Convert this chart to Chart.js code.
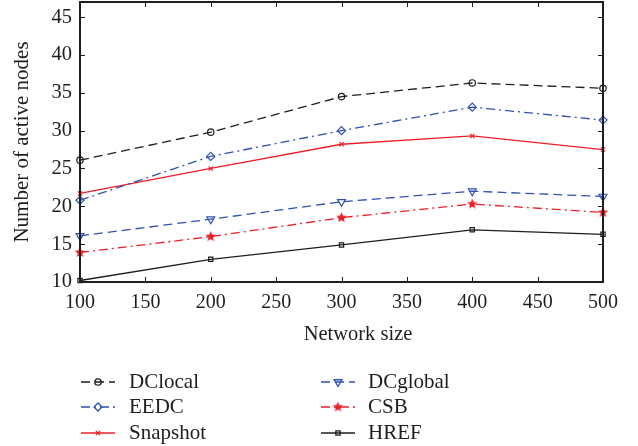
<!DOCTYPE html>
<html lang="en">
<head>
  <meta charset="UTF-8" />
  <title>Number of active nodes vs network size</title>
  <script src="https://cdn.jsdelivr.net/npm/chart.js@4.4.1/dist/chart.umd.min.js"></script>
  <style>
    body { margin: 0; background: #fff; }
    #wrap { width: 638px; height: 446px; }
  </style>
</head>
<body>
  <div id="wrap"><canvas id="chart" width="638" height="446"></canvas></div>

  <script>
    // data
    const networkSizes = [100, 200, 300, 400, 500];
    const dcLocal  = [26.1, 29.8, 34.5, 36.3, 35.6];
    const eedc     = [20.8, 26.6, 30.0, 33.1, 31.4];
    const snapshot = [21.7, 25.0, 28.2, 29.3, 27.5];
    const dcGlobal = [16.1, 18.3, 20.6, 22.0, 21.3];
    const csb      = [13.9, 16.0, 18.5, 20.3, 19.2];
    const href     = [10.2, 13.0, 14.9, 16.9, 16.3];

    const xTicks = [100, 150, 200, 250, 300, 350, 400, 450, 500];
    const yTicks = [10, 15, 20, 25, 30, 35, 40, 45];

    const BLACK = '#1e1e1e';
    const BLUE = '#2f52b0';
    const RED = '#ec1f29';
    const FONT = "'Liberation Serif', 'DejaVu Serif', serif";

    // filled red star marker
    function makeStar(r, color) {
      const c = document.createElement('canvas');
      c.width = c.height = 2 * r + 2;
      const g = c.getContext('2d');
      const cx = r + 1, cy = r + 1;
      g.beginPath();
      for (let i = 0; i < 10; i++) {
        const rad = i % 2 === 0 ? r : r * 0.45;
        const a = -Math.PI / 2 + i * Math.PI / 5;
        g.lineTo(cx + rad * Math.cos(a), cy + rad * Math.sin(a));
      }
      g.closePath();
      g.fillStyle = color;
      g.fill();
      return c;
    }
    const starImg = makeStar(5.5, RED);

    const toPoints = arr => arr.map((v, i) => ({ x: networkSizes[i], y: v }));

    function series(label, values, color, dash, style, radius, rotation) {
      return {
        label: label,
        data: toPoints(values),
        borderColor: color,
        borderWidth: 1.3,
        borderDash: dash,
        pointStyle: style,
        pointRadius: radius,
        pointRotation: rotation || 0,
        pointBorderColor: color,
        pointBackgroundColor: 'rgba(0,0,0,0)',
        pointBorderWidth: 1.2,
        tension: 0
      };
    }

    const datasets = [
      series('DClocal', dcLocal, BLACK, [9, 5], 'circle', 3.2),
      series('EEDC', eedc, BLUE, [9, 4, 2, 4], 'rectRot', 4),
      series('Snapshot', snapshot, RED, [], 'crossRot', 3),
      series('DCglobal', dcGlobal, BLUE, [9, 5], 'triangle', 4.5, 180),
      series('CSB', csb, RED, [9, 4, 2, 4], starImg, 6),
      series('HREF', href, BLACK, [], 'rect', 3)
    ];

    // box, inward ticks, x title and the two-column legend
    const decor = {
      id: 'decor',
      afterDraw(chart) {
        const { ctx, chartArea: a, scales } = chart;
        ctx.save();
        ctx.strokeStyle = BLACK;
        ctx.lineWidth = 1;
        ctx.setLineDash([]);
        xTicks.forEach(v => {
          const x = Math.round(scales.x.getPixelForValue(v)) + 0.5;
          ctx.beginPath();
          ctx.moveTo(x, a.bottom); ctx.lineTo(x, a.bottom - 5);
          ctx.moveTo(x, a.top); ctx.lineTo(x, a.top + 5);
          ctx.stroke();
        });
        yTicks.forEach(v => {
          const y = Math.round(scales.y.getPixelForValue(v)) + 0.5;
          ctx.beginPath();
          ctx.moveTo(a.left, y); ctx.lineTo(a.left + 5, y);
          ctx.moveTo(a.right, y); ctx.lineTo(a.right - 5, y);
          ctx.stroke();
        });
        ctx.lineWidth = 2;
        ctx.strokeRect(a.left, a.top, a.right - a.left, a.bottom - a.top);

        // x axis title
        ctx.fillStyle = BLACK;
        ctx.font = '20.5px ' + FONT;
        ctx.textAlign = 'center';
        ctx.textBaseline = 'middle';
        ctx.fillText('Network size', 358, 335);

        // legend
        const rows = [382, 407, 433];
        const cols = [{ line: 81, text: 129 }, { line: 321, text: 368 }];
        ctx.font = '21px ' + FONT;
        ctx.textAlign = 'left';
        chart.data.datasets.forEach((ds, i) => {
          const col = cols[Math.floor(i / 3)];
          const y = rows[i % 3];
          ctx.save();
          ctx.strokeStyle = ds.borderColor;
          ctx.lineWidth = ds.borderWidth;
          ctx.setLineDash(ds.borderDash);
          ctx.beginPath();
          ctx.moveTo(col.line, y);
          ctx.lineTo(col.line + 34, y);
          ctx.stroke();
          ctx.setLineDash([]);
          ctx.fillStyle = ds.pointBackgroundColor;
          Chart.helpers.drawPoint(ctx, {
            pointStyle: ds.pointStyle,
            radius: ds.pointRadius,
            rotation: ds.pointRotation,
            borderWidth: ds.pointBorderWidth
          }, col.line + 17, y);
          ctx.restore();
          ctx.fillStyle = BLACK;
          ctx.fillText(ds.label, col.text, y);
        });
        ctx.restore();
      }
    };

    new Chart(document.getElementById('chart'), {
      type: 'line',
      data: { datasets: datasets },
      options: {
        responsive: false,
        animation: false,
        clip: false,
        layout: { autoPadding: false, padding: { left: 0, top: 2, right: 35, bottom: 0 } },
        plugins: { legend: { display: false }, tooltip: { enabled: false } },
        scales: {
          x: {
            type: 'linear',
            min: 100,
            max: 500,
            grid: { display: false, drawTicks: false },
            border: { display: false },
            afterBuildTicks: s => { s.ticks = xTicks.map(v => ({ value: v })); },
            afterFit: s => { s.height = 164; s.paddingLeft = 0; s.paddingRight = 0; },
            ticks: { color: BLACK, font: { family: FONT, size: 20 }, padding: 9, maxRotation: 0 }
          },
          y: {
            min: 10,
            max: 47,
            grid: { display: false, drawTicks: false },
            border: { display: false },
            afterBuildTicks: s => { s.ticks = yTicks.map(v => ({ value: v })); },
            afterFit: s => { s.width = 80; s.paddingTop = 0; s.paddingBottom = 0; },
            ticks: { color: BLACK, font: { family: FONT, size: 20.5 }, padding: 8 },
            title: {
              display: true,
              text: 'Number of active nodes',
              color: BLACK,
              font: { family: FONT, size: 21 },
              padding: { top: 10, bottom: 0 }
            }
          }
        }
      },
      plugins: [decor]
    });
  </script>
</body>
</html>
